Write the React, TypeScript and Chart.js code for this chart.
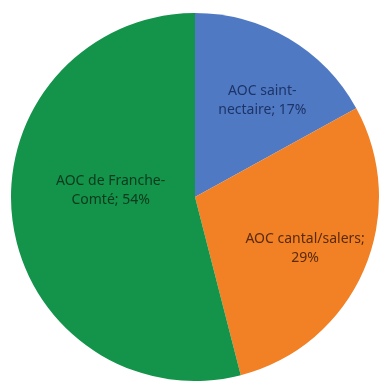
import React, { useEffect, useRef } from "react";
import { Chart, registerables } from "chart.js";

Chart.register(...registerables);

const categories: string[][] = [
  ["AOC saint-", "nectaire; 17%"],
  ["AOC cantal/salers;", "29%"],
  ["AOC de Franche-", "Comté; 54%"],
];
const values: number[] = [17, 29, 54];
const colors: string[] = ["#5079c4", "#f28025", "#14934a"];
const labelColors: string[] = ["#1d3468", "#5a2a0c", "#0b3a1c"];

const labelPlugin = {
  id: "sliceLabels",
  afterDatasetsDraw(chart: any, _args: any, opts: any) {
    const meta = chart.getDatasetMeta(0);
    const ctx = chart.ctx;
    ctx.save();
    ctx.font = "14px 'Noto Sans', 'Open Sans', sans-serif";
    ctx.textAlign = "center";
    ctx.textBaseline = "middle";
    meta.data.forEach((arc: any, i: number) => {
      const p = arc.getProps(["x", "y", "startAngle", "endAngle", "outerRadius"], true);
      const a = p.startAngle + (p.endAngle - p.startAngle) * opts.angleFrac[i];
      const d = p.outerRadius * opts.radiusFrac[i];
      const cx = p.x + Math.cos(a) * d;
      const cy = p.y + Math.sin(a) * d;
      const lines = categories[i];
      const lh = 19;
      ctx.fillStyle = labelColors[i];
      lines.forEach((t, j) => {
        ctx.fillText(t, cx, cy + (j - (lines.length - 1) / 2) * lh);
      });
    });
    ctx.restore();
  },
};

export default function App() {
  const ref = useRef<HTMLCanvasElement>(null);
  useEffect(() => {
    if (!ref.current) return;
    const chart = new Chart(ref.current, {
      type: "pie",
      data: {
        labels: categories.map((c) => c.join(" ")),
        datasets: [
          {
            data: values,
            backgroundColor: colors,
            borderWidth: 0,
          },
        ],
      },
      options: {
        responsive: false,
        animation: false,
        layout: { padding: { left: 11, right: 1, top: 13, bottom: 0 } },
        plugins: {
          legend: { display: false },
          tooltip: { enabled: false },
          sliceLabels: { angleFrac: [0.57, 0.515, 0.56], radiusFrac: [0.64, 0.66, 0.46] },
        } as any,
      },
      plugins: [labelPlugin],
    });
    return () => chart.destroy();
  }, []);
  return (
    <div style={{ position: "fixed", left: 0, top: 0, width: 380, height: 381, background: "#fff" }}>
      <canvas ref={ref} width={380} height={381} style={{ display: "block" }} />
    </div>
  );
}
